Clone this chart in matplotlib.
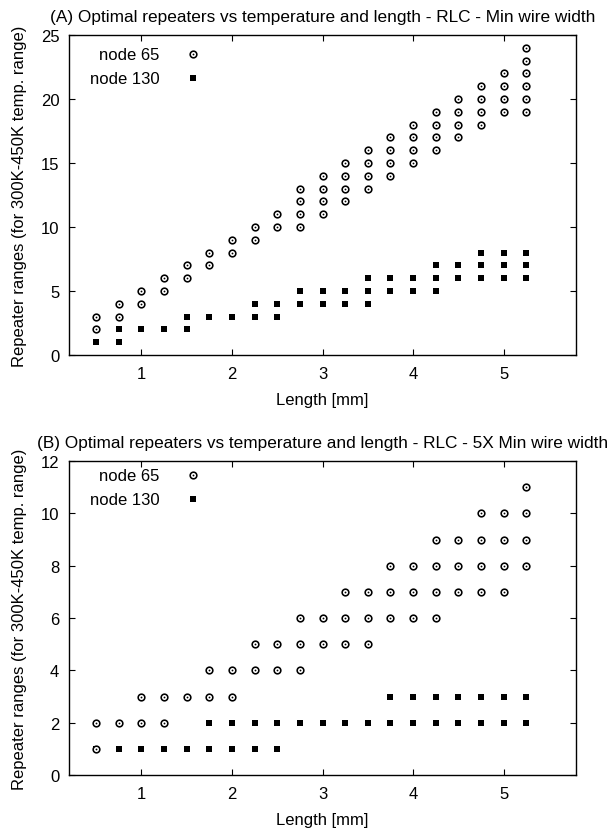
import matplotlib
matplotlib.use("Agg")
import matplotlib.pyplot as plt

plt.rcParams['font.family'] = ['Liberation Sans', 'DejaVu Sans']

lengths = [0.5, 0.75, 1.0, 1.25, 1.5, 1.75, 2.0, 2.25, 2.5, 2.75,
           3.0, 3.25, 3.5, 3.75, 4.0, 4.25, 4.5, 4.75, 5.0, 5.25]

# Panel A: Min wire width
a_node65 = [[2, 3], [3, 4], [4, 5], [5, 6], [6, 7], [7, 8], [8, 9], [9, 10],
            [10, 11], [10, 11, 12, 13], [11, 12, 13, 14], [12, 13, 14, 15],
            [13, 14, 15, 16], [14, 15, 16, 17], [15, 16, 17, 18],
            [16, 17, 18, 19], [17, 18, 19, 20], [18, 19, 20, 21],
            [19, 20, 21, 22], [19, 20, 21, 22, 23, 24]]
a_node130 = [[1], [1, 2], [2], [2], [2, 3], [3], [3], [3, 4], [3, 4], [4, 5],
             [4, 5], [4, 5], [4, 5, 6], [5, 6], [5, 6], [5, 6, 7], [6, 7],
             [6, 7, 8], [6, 7, 8], [6, 7, 8]]

# Panel B: 5X Min wire width
b_node65 = [[1, 2], [2], [2, 3], [2, 3], [3], [3, 4], [3, 4], [4, 5], [4, 5],
            [4, 5, 6], [5, 6], [5, 6, 7], [5, 6, 7], [6, 7, 8], [6, 7, 8],
            [6, 7, 8, 9], [7, 8, 9], [7, 8, 9, 10], [7, 8, 9, 10],
            [8, 9, 10, 11]]
b_node130 = [[1], [1], [1], [1], [1], [1, 2], [1, 2], [1, 2], [1, 2], [2],
             [2], [2], [2], [2, 3], [2, 3], [2, 3], [2, 3], [2, 3], [2, 3],
             [2, 3]]

titles = ["(A) Optimal repeaters vs temperature and length - RLC - Min wire width",
          "(B) Optimal repeaters vs temperature and length - RLC - 5X Min wire width"]
series_labels = ["node 65", "node 130"]
ylims = [25, 12]
yticks = [[0, 5, 10, 15, 20, 25], [0, 2, 4, 6, 8, 10, 12]]
xticks = [1, 2, 3, 4, 5]
xlabel = "Length [mm]"
ylabel = "Repeater ranges (for 300K-450K temp. range)"

W, H = 608, 829
fig = plt.figure(figsize=(W / 100, H / 100), dpi=100)

boxes = [(69, 36, 576, 356), (69, 462, 576, 776)]
FS = 12


def expand(groups):
    xs, ys = [], []
    for x, vals in zip(lengths, groups):
        for v in vals:
            xs.append(x)
            ys.append(v)
    return xs, ys


def circ(ax, xs, ys, **kw):
    ax.plot(xs, ys, ls='none', marker='o', ms=4.8, mfc='white', mec='black',
            mew=1.15, **kw)
    ax.plot(xs, ys, ls='none', marker='o', ms=1.3, mfc='black', mec='black',
            mew=0, **kw)


def square(ax, xs, ys, **kw):
    ax.plot(xs, ys, ls='none', marker='s', ms=5.0, mfc='black', mec='black',
            mew=0, **kw)


panels = [(a_node65, a_node130), (b_node65, b_node130)]
for i, (l, t, r, b) in enumerate(boxes):
    ax = fig.add_axes([l / W, 1 - b / H, (r - l) / W, (b - t) / H])
    n65, n130 = panels[i]
    x1, y1 = expand(n130)
    square(ax, x1, y1)
    x2, y2 = expand(n65)
    circ(ax, x2, y2)
    ax.set_xlim(0.2, 5.8)
    ax.set_ylim(0, ylims[i])
    ax.set_xticks(xticks)
    ax.set_yticks(yticks[i])
    ax.tick_params(axis='x', pad=8)
    ax.tick_params(direction='in', length=4, width=0.8, top=True, right=True,
                   labelsize=FS, colors='black')
    ax.tick_params(axis='y', pad=7)
    for s in ax.spines.values():
        s.set_linewidth(1.0)
    ax.set_xlabel(xlabel, fontsize=FS, labelpad=8)
    ax.set_ylabel(ylabel, fontsize=FS, labelpad=10)
    ax.set_title(titles[i], fontsize=12.4, pad=10)

    # gnuplot-style key: right-aligned text, sample marker to the right
    ky = [0.94, 0.865] if i == 0 else [0.955, 0.878]
    ax.text(0.178, ky[0], series_labels[0], transform=ax.transAxes,
            ha='right', va='center', fontsize=FS)
    ax.text(0.178, ky[1], series_labels[1], transform=ax.transAxes,
            ha='right', va='center', fontsize=FS)
    circ(ax, [0.244], [ky[0]], transform=ax.transAxes, clip_on=False)
    square(ax, [0.244], [ky[1]], transform=ax.transAxes, clip_on=False)

fig.savefig("out.png", dpi=100)
